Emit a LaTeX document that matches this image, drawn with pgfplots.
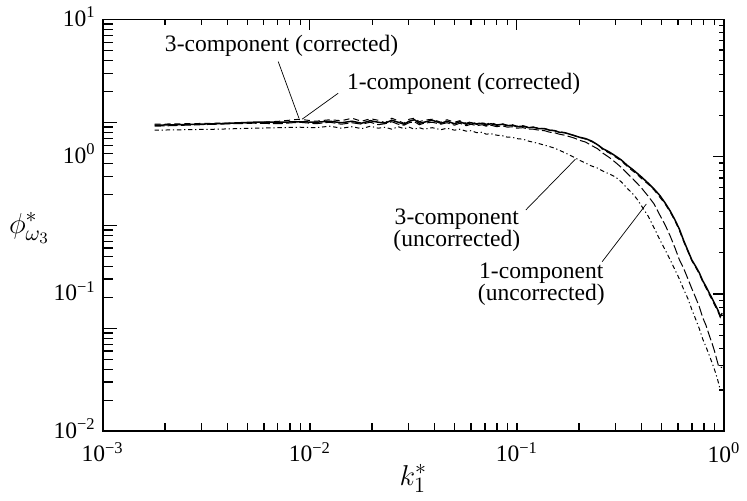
\documentclass[border=0pt]{standalone}
\usepackage{fontspec}
\setmainfont{Liberation Serif}
\usepackage{pgfplots}
\pgfplotsset{compat=1.18}
\usepackage{pgfplotstable}

% Spanwise-vorticity spectra: k = k_1^*, S/D = 1- and 3-component (corrected),
% M/L = 1- and 3-component (uncorrected)
\pgfplotstableread{
k       S       D       M       L
0.00178 1.699   1.728   1.671   1.563
0.00356 1.742   1.757   1.728   1.589
0.00534 1.786   1.771   1.757   1.616
0.00712 1.786   1.816   1.742   1.630
0.0089  1.801   1.878   1.786   1.643
0.0107  1.786   1.816   1.742   1.630
0.0125  1.816   1.863   1.786   1.671
0.0142  1.771   1.832   1.728   1.616
0.0160  1.816   1.910   1.771   1.657
0.0178  1.757   1.816   1.728   1.603
0.0196  1.832   1.894   1.786   1.671
0.0214  1.786   1.847   1.713   1.616
0.0231  1.757   1.771   1.742   1.643
0.0249  1.847   1.910   1.801   1.589
0.0267  1.786   1.832   1.728   1.657
0.0285  1.728   1.757   1.699   1.603
0.0302  1.816   1.878   1.771   1.643
0.0320  1.863   1.910   1.801   1.589
0.0338  1.757   1.801   1.713   1.630
0.0356  1.786   1.847   1.757   1.589
0.039   1.847   1.878   1.786   1.630
0.043   1.757   1.786   1.728   1.576
0.046   1.816   1.863   1.771   1.616
0.050   1.742   1.786   1.699   1.563
0.053   1.801   1.832   1.757   1.589
0.057   1.728   1.757   1.685   1.537
0.060   1.771   1.801   1.728   1.550
0.064   1.728   1.742   1.685   1.499
0.068   1.757   1.786   1.713   1.511
0.071   1.699   1.728   1.671   1.462
0.075   1.742   1.771   1.699   1.474
0.080   1.699   1.713   1.657   1.437
0.085   1.728   1.742   1.685   1.425
0.090   1.685   1.699   1.643   1.390
0.095   1.699   1.713   1.657   1.390
0.100   1.657   1.671   1.616   1.356
0.107   1.671   1.685   1.630   1.344
0.114   1.630   1.643   1.589   1.300
0.120   1.643   1.643   1.589   1.279
0.128   1.603   1.616   1.563   1.247
0.136   1.603   1.603   1.550   1.216
0.144   1.563   1.576   1.511   1.186
0.152   1.550   1.550   1.499   1.157
0.160   1.511   1.524   1.462   1.118
0.170   1.499   1.499   1.437   1.073
0.180   1.462   1.462   1.402   1.029
0.190   1.425   1.425   1.367   0.987
0.200   1.390   1.390   1.322   0.946
0.215   1.356   1.344   1.279   0.900
0.230   1.300   1.290   1.206   0.856
0.245   1.226   1.236   1.147   0.828
0.260   1.147   1.128   1.064   0.787
0.280   1.082   1.064   0.987   0.749
0.300   1.012   0.995   0.908   0.712
0.320   0.946   0.931   0.835   0.655
0.340   0.870   0.856   0.761   0.592
0.360   0.815   0.795   0.700   0.545
0.380   0.761   0.749   0.644   0.493
0.400   0.712   0.694   0.592   0.4385
0.430   0.644   0.633   0.518   0.371
0.460   0.582   0.573   0.453   0.3035
0.490   0.523   0.508   0.377   0.249
0.520   0.461   0.453   0.319   0.210
0.550   0.403   0.396   0.265   0.1778
0.580   0.347   0.342   0.2173  0.1504
0.610   0.296   0.289   0.177   0.1283
0.640   0.244   0.240   0.153   0.1076
0.670   0.207   0.204   0.129   0.0926
0.700   0.177   0.175   0.1094  0.0770
0.730   0.1594  0.1568  0.0942  0.0657
0.760   0.1430  0.1406  0.0810  0.0561
0.790   0.125   0.123   0.0674  0.0470
0.820   0.113   0.1104  0.0589  0.0411
0.850   0.1015  0.0990  0.0499  0.0357
0.880   0.0918  0.0896  0.0429  0.0310
0.900   0.0859  0.0838  0.0385  0.0282
0.920   0.0803  0.0784  0.0340  0.0255
0.940   0.0751  0.0733  0.0302  0.0227
0.960   0.0685  0.0680  0.0292  0.0199
0.980   0.0726  0.0709  0.0293  0.0201
}\spectra

\newcommand{\lbl}{\fontsize{11.8}{11}\selectfont}
\newcommand{\mlbl}{\fontsize{15.5}{15.5}\selectfont}

\begin{document}
\begin{tikzpicture}[font=\lbl]
% heavy bottom axis line with its inward ticks
\begin{axis}[
  scale only axis, width=311.5pt, height=206.5pt,
  xmode=log, xmin=1e-3, xmax=1, ymin=0, ymax=1,
  axis x line*=bottom, hide y axis,
  x axis line style={line width=1pt,-},
  xtick={1e-3,1e-2,1e-1,1},
  minor xtick={0.002,0.003,0.004,0.005,0.006,0.007,0.008,0.009,
               0.02,0.03,0.04,0.05,0.06,0.07,0.08,0.09,
               0.2,0.3,0.4,0.5,0.6,0.7,0.8,0.9},
  xticklabels={},
  tick align=inside,
  major tick length=4pt, minor tick length=4pt,
  every tick/.style={line width=0.8pt, black},
]
\end{axis}
% heavy left axis line with its inward ticks
\begin{axis}[
  scale only axis, width=311.5pt, height=206.5pt,
  ymode=log, ymin=1e-3, ymax=10, xmin=0, xmax=1,
  axis y line*=left, hide x axis,
  y axis line style={line width=1pt,-},
  ytick={1e-3,1e-2,1e-1,1,10},
  minor ytick={0.002,0.003,0.004,0.005,0.006,0.007,0.008,0.009,
               0.02,0.03,0.04,0.05,0.06,0.07,0.08,0.09,
               0.2,0.3,0.4,0.5,0.6,0.7,0.8,0.9,
               2,3,4,5,6,7,8,9},
  yticklabels={},
  tick align=inside,
  major tick length=7pt, minor tick length=5pt,
  every tick/.style={line width=0.8pt, black},
]
\end{axis}
% data axis
\begin{axis}[
  scale only axis, width=311.5pt, height=206.5pt,
  xmode=log, ymode=log,
  xmin=1e-3, xmax=1, ymin=1e-2, ymax=10,
  axis line style={line width=0.6pt},
  xtick pos=right, ytick pos=right,
  xticklabel pos=left, yticklabel pos=left,
  tick align=inside,
  major tick length=5.5pt, minor tick length=2.5pt,
  every tick/.style={line width=0.6pt, black},
  xtick={1e-3,1e-2,1e-1,1},
  xticklabels={10\textsuperscript{−3},10\textsuperscript{−2},10\textsuperscript{−1},10\textsuperscript{0}},
  minor xtick={0.002,0.003,0.004,0.005,0.006,0.007,0.008,0.009,
               0.02,0.03,0.04,0.05,0.06,0.07,0.08,0.09,
               0.2,0.3,0.4,0.5,0.6,0.7,0.8,0.9},
  ytick={1e-2,1e-1,1,10},
  yticklabels={10\textsuperscript{−2},10\textsuperscript{−1},10\textsuperscript{0},10\textsuperscript{1}},
  minor ytick={0.02,0.03,0.04,0.05,0.06,0.07,0.08,0.09,
               0.2,0.3,0.4,0.5,0.6,0.7,0.8,0.9,
               2,3,4,5,6,7,8,9},
  tick label style={font=\lbl},
  xticklabel style={yshift=-2pt},
  yticklabel style={yshift=1.5pt},
  xlabel={$k_1^*$}, ylabel={$\phi^*_{\omega_3}$},
  every axis x label/.style={at={(rel axis cs:0.5,-0.114)}, anchor=center, font=\mlbl},
  every axis y label/.style={at={(rel axis cs:-0.118,0.494)}, anchor=center, font=\mlbl},
]
\addplot[black, line width=0.75pt] table[x=k, y=S] {\spectra};
\addplot[black, line width=0.5pt, dash pattern=on 3pt off 2pt] table[x=k, y=D] {\spectra};
\addplot[black, line width=0.5pt, dash pattern=on 5pt off 1.6pt] table[x=k, y=M] {\spectra};
\addplot[black, line width=0.5pt, dash pattern=on 2.2pt off 1.4pt on 0.6pt off 1.4pt] table[x=k, y=L] {\spectra};

% annotations with leader lines
\node[font=\lbl] at (rel axis cs:0.288,0.935) {3-component (corrected)};
\draw[line width=0.35pt] (rel axis cs:0.2825,0.898) -- (rel axis cs:0.316,0.760);
\node[font=\lbl] at (rel axis cs:0.581,0.843) {1-component (corrected)};
\draw[line width=0.35pt] (rel axis cs:0.379,0.821) -- (rel axis cs:0.321,0.758);
\node[font=\lbl, align=center] at (rel axis cs:0.570,0.489) {3-component\\(uncorrected)};
\draw[line width=0.35pt] (rel axis cs:0.681,0.5375) -- (rel axis cs:0.761,0.661);
\node[font=\lbl, align=center] at (rel axis cs:0.706,0.358) {1-component\\(uncorrected)};
\draw[line width=0.35pt] (rel axis cs:0.804,0.412) -- (rel axis cs:0.875,0.552);
\end{axis}
\path (-51.5pt,-34.5pt) rectangle (322pt,213pt);
\end{tikzpicture}
\end{document}
